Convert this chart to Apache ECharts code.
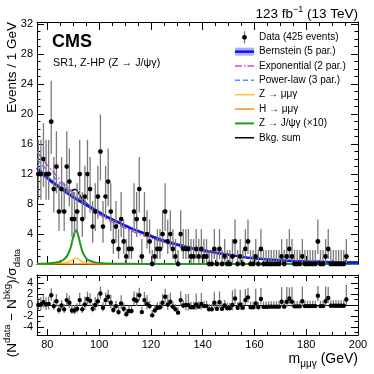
<!DOCTYPE html>
<html><head><meta charset="utf-8">
<script src="https://cdn.jsdelivr.net/npm/echarts@6/dist/echarts.min.js"></script>
<style>html,body{margin:0;padding:0;background:#fff}#c{width:374px;height:374px}</style>
</head><body><div id="c"></div>
<script>
// ---------- DATA ----------
const binLow = 76, binWidth = 1;
// events per 1 GeV bin, bins 76-77 ... 195-196
const events = [12,12,14,12,12,19,10,13,7,10,7,13,11,6,6,7,12,6,9,12,10,5,7,9,15,
  5,9,11,7,3,5,2,6,3,1,2,2,7,6,10,1,6,4,3,0,1,2,
  2,4,7,3,4,2,1,0,4,2,2,2,1,1,2,1,2,1,1,0,0,2,0,2,0,1,0,0,1,3,0,1,0,2,3,0,0,1,0,2,
  0,0,0,0,0,0,0,1,0,1,2,1,0,0,0,1,0,0,0,0,0,3,0,0,1,2,0,0,0,0,0,0,1];
// (N_data - N_bkg)/sigma_data per bin
const pulls = [0.0,0.1,0.5,0.1,0.2,1.8,-0.2,0.7,-0.9,-0.1,-0.8,0.9,0.4,-1.0,-1.0,-0.7,0.9,-0.8,0.1,1.1,0.8,-0.7,0.0,0.7,2.1,
  -0.5,0.9,1.5,0.4,-0.9,-0.2,-1.3,0.3,-0.7,-1.7,-1.1,-1.1,1.0,0.8,1.8,-1.3,0.9,0.2,-0.2,-1.9,-1.0,-0.5,
  -0.4,0.4,1.5,0.1,0.6,-0.3,-0.8,-1.4,0.9,-0.1,0.0,0.0,-0.4,-0.4,0.1,-0.3,0.2,-0.2,-0.2,-0.8,-0.8,0.4,-0.7,0.5,-0.7,-0.1,-0.6,-0.6,0.0,1.2,-0.5,0.1,-0.5,0.9,1.4,-0.4,-0.4,0.3,-0.4,1.1,
  -0.35,-0.35,-0.3,-0.3,-0.3,-0.3,-0.3,0.6,-0.3,0.6,1.2,0.6,-0.25,-0.25,-0.25,0.7,-0.2,-0.2,-0.2,-0.2,-0.2,1.7,-0.2,-0.2,0.7,1.3,-0.15,-0.15,-0.15,-0.15,-0.15,-0.15,1.0];

// background curves
const curveMass   = [76,78,80,82,84,86,88,90,92,94,96,98,100,103,106,109,112,115,118,121,124,127,130,134,138,142,146,150,155,160,165,170,175,180,185,190,195,200];
const bernstein   = [12.8,12.1,11.5,10.9,10.4,9.9,9.4,8.9,8.5,8.1,7.7,7.3,6.9,6.3,5.8,5.3,4.8,4.4,4.0,3.6,3.2,2.9,2.6,2.25,1.95,1.7,1.45,1.25,0.95,0.75,0.6,0.48,0.4,0.33,0.28,0.24,0.21,0.19];
const bernsteinErr= [0.45,0.4,0.35,0.32,0.3,0.28,0.26,0.24,0.22,0.2,0.19,0.18,0.17,0.16,0.15,0.14,0.13,0.12,0.12,0.11,0.11,0.1,0.1,0.09,0.09,0.08,0.08,0.07,0.07,0.06,0.06,0.06,0.05,0.05,0.05,0.06,0.07,0.08];
const exponential = [15.0,14.1,13.2,12.4,11.6,10.85,10.15,9.5,8.85,8.2,7.6,7.05,6.6,6.0,5.45,4.95,4.5,4.05,3.7,3.35,3.0,2.7,2.45,2.1,1.8,1.55,1.35,1.15,0.95,0.78,0.66,0.56,0.47,0.4,0.34,0.29,0.25,0.21];
const powerLaw    = [14.0,13.2,12.5,11.8,11.1,10.5,9.9,9.3,8.8,8.3,7.85,7.4,7.0,6.4,5.85,5.35,4.9,4.45,4.05,3.7,3.35,3.05,2.75,2.4,2.1,1.85,1.6,1.3,1.05,0.85,0.7,0.58,0.48,0.41,0.35,0.3,0.26,0.23];
// background sum (incl. signal bump)
const sumMass = [76,78,80,82,84,85,86,87,88,89,89.5,90,90.5,91,91.5,92,92.5,93,93.5,94,95,96,98,100,103,106,109,112,115,118,121,124,127,130,134,138,142,146,150,155,160,165,170,175,180,185,190,195,200];
const bkgSum  = [12.85,12.15,11.55,10.96,10.5,10.28,10.08,9.91,9.79,9.77,9.81,9.88,9.96,9.95,9.79,9.52,9.22,8.93,8.67,8.46,8.12,7.84,7.38,6.95,6.32,5.81,5.3,4.8,4.4,4.0,3.6,3.22,2.92,2.6,2.25,1.95,1.7,1.45,1.25,0.95,0.75,0.6,0.48,0.4,0.33,0.28,0.24,0.21,0.19];
// signal shapes
const sigMass   = [76,80,83,85,86,87,88,89,89.5,90,90.5,91,91.5,92,92.5,93,93.5,94,95,96,98,100,103,106,110,115,120,123,124,125,126,127,130,140,160,200];
const zJpsiX10  = [0.03,0.07,0.16,0.33,0.5,0.8,1.3,2.2,2.9,3.6,4.2,4.5,4.3,3.7,3.0,2.3,1.7,1.3,0.75,0.48,0.25,0.15,0.08,0.05,0.03,0.015,0.01,0.005,0.005,0.005,0.004,0.004,0.003,0.002,0.001,0];
const zMuMuG    = [0.02,0.04,0.07,0.1,0.13,0.18,0.26,0.4,0.5,0.62,0.74,0.8,0.76,0.65,0.52,0.4,0.3,0.23,0.14,0.09,0.05,0.03,0.02,0.01,0.01,0.005,0,0,0,0,0,0,0,0,0,0];
const hMuMuG    = [0,0,0,0,0,0,0,0,0,0,0,0,0,0,0,0,0,0,0,0,0,0,0,0,0,0,0.005,0.02,0.04,0.06,0.04,0.02,0.005,0,0,0];

// axis ticks
const xMajor = [80,100,120,140,160,180,200];
const yMajorMain = [0,4,8,12,16,20,24,28,32];
const yMajorRatio = [-4,-2,0,2,4];
const yMinorRatio = [-5,-3,-1,1,3,5];

// ---------- HELPERS ----------
const FONT = "'Liberation Sans', Arial, Helvetica, sans-serif";
function range(a, b, s){ const r=[]; for(let v=a; v<=b+1e-9; v+=s) r.push(+v.toFixed(6)); return r; }
const xMinor = range(80,200,5);
const yMinorMain = range(0,32,1);

const massBins = events.map((_, i) => binLow + binWidth * (i + 0.5));
const errUp = n => Math.sqrt(n + 0.75) + 1;       // ~Garwood upper error
const errDn = n => n > 0 ? Math.sqrt(n - 0.25) : 0; // ~Garwood lower error

const dataPts = events.map((n, i) => [massBins[i], n, n - errDn(n), n + errUp(n)]);
const pullPts = pulls.map((p, i) => {
  const n = events[i];
  const sig = (p >= 0 && n > 0) ? errDn(n) : errUp(n);
  return [massBins[i], p, p - errDn(n) / sig, p + errUp(n) / sig];
});

function axis(grid, pos, min, max, ticks, len, o) {
  o = o || {};
  return {
    type: 'value', gridIndex: grid, position: pos, min: min, max: max,
    axisLine: { show: !!o.line, onZero: false, lineStyle: { color: '#000', width: 1 } },
    axisTick: { show: true, inside: true, length: len, customValues: ticks, lineStyle: { color: '#000', width: 1 } },
    axisLabel: o.labels ? { show: true, customValues: o.labels, color: '#000', fontSize: 11, fontFamily: FONT, margin: o.margin || 4, showMaxLabel: true, showMinLabel: true } : { show: false },
    splitLine: { show: false }, minorTick: { show: false }, splitArea: { show: false }
  };
}

function errRender(r) {
  return function (params, api) {
    const x = api.value(0), y = api.value(1), lo = api.value(2), hi = api.value(3);
    const p = api.coord([x, y]), a = api.coord([x, lo]), b = api.coord([x, hi]);
    return { type: 'group', children: [
      { type: 'line', shape: { x1: a[0], y1: a[1], x2: b[0], y2: b[1] }, style: { stroke: '#7a7a7a', lineWidth: 1.3 } },
      { type: 'circle', shape: { cx: p[0], cy: p[1], r: r }, style: { fill: '#000' } }
    ]};
  };
}

function lineSeries(xs, ys, color, width, type, z) {
  return { type: 'line', xAxisIndex: 0, yAxisIndex: 0, data: xs.map((m, i) => [m, ys[i]]),
    showSymbol: false, symbol: 'none', smooth: 0.3, z: z, silent: true, animation: false,
    lineStyle: { color: color, width: width, type: type } };
}

const XMIN = 76, XMAX = 200, YMAX = 32.3;

const option = {
  animation: false,
  backgroundColor: '#fff',
  textStyle: { fontFamily: FONT },
  grid: [
    { left: 37, top: 22, width: 321, height: 242, outerBoundsMode: 'none', containLabel: false },
    { left: 37, top: 275, width: 321, height: 60, outerBoundsMode: 'none', containLabel: false }
  ],
  xAxis: [
    axis(0, 'bottom', XMIN, XMAX, xMajor, 8, { line: true }),
    axis(0, 'bottom', XMIN, XMAX, xMinor, 4),
    axis(0, 'top', XMIN, XMAX, xMajor, 8, { line: true }),
    axis(0, 'top', XMIN, XMAX, xMinor, 4),
    axis(1, 'bottom', XMIN, XMAX, xMajor, 6, { line: true, labels: xMajor, margin: 4 }),
    axis(1, 'bottom', XMIN, XMAX, xMinor, 3),
    axis(1, 'top', XMIN, XMAX, xMajor, 6, { line: true }),
    axis(1, 'top', XMIN, XMAX, xMinor, 3)
  ],
  yAxis: [
    axis(0, 'left', 0, YMAX, yMajorMain, 7, { line: true, labels: yMajorMain, margin: 4 }),
    axis(0, 'left', 0, YMAX, yMinorMain, 3.5),
    axis(0, 'right', 0, YMAX, yMajorMain, 7, { line: true }),
    axis(0, 'right', 0, YMAX, yMinorMain, 3.5),
    axis(1, 'left', -5.5, 5.5, yMajorRatio, 7, { line: true, labels: yMajorRatio, margin: 4 }),
    axis(1, 'left', -5.5, 5.5, yMinorRatio, 3.5),
    axis(1, 'right', -5.5, 5.5, yMajorRatio, 7, { line: true }),
    axis(1, 'right', -5.5, 5.5, yMinorRatio, 3.5)
  ],
  series: [
    { type: 'custom', name: 'band', xAxisIndex: 0, yAxisIndex: 0, data: [[XMIN, 0]], z: 2, silent: true,
      renderItem: function (params, api) {
        const up = curveMass.map((m, i) => api.coord([m, bernstein[i] + bernsteinErr[i]]));
        const dn = curveMass.map((m, i) => api.coord([m, bernstein[i] - bernsteinErr[i]])).reverse();
        return { type: 'polygon', shape: { points: up.concat(dn) }, style: { fill: 'rgba(110,110,255,0.55)' } };
      } },
    lineSeries(sumMass, bkgSum, '#000', 1.5, 'solid', 3),
    lineSeries(sigMass, zMuMuG, '#ffc233', 1.5, 'solid', 4),
    lineSeries(sigMass, hMuMuG, '#ff8c1a', 1.5, 'solid', 4),
    lineSeries(sigMass, zJpsiX10, '#1e9a1e', 2, 'solid', 4),
    lineSeries(curveMass, exponential, '#e040e0', 1.5, [7, 2, 1.5, 2], 4),
    lineSeries(curveMass, powerLaw, '#4a90ff', 1.5, [5, 3], 4),
    lineSeries(curveMass, bernstein, '#1010e6', 2.5, 'solid', 5),
    { type: 'custom', name: 'data', xAxisIndex: 0, yAxisIndex: 0, data: dataPts, z: 10, clip: false,
      renderItem: errRender(2.4), silent: true },
    { type: 'custom', name: 'pull', xAxisIndex: 4, yAxisIndex: 4, data: pullPts, z: 10, clip: false,
      renderItem: errRender(2.2), silent: true,
      markLine: { silent: true, symbol: 'none', label: { show: false }, lineStyle: { color: '#000', width: 1, type: 'solid' }, data: [{ yAxis: 0 }], z: 5 } }
  ],
  graphic: []
};

// ---------- TEXT & LEGEND ----------
const G = option.graphic;
G.push({ type: 'text', x: 358, y: 14, style: { text: '123 fb{sup|−1} (13 TeV)', fill: '#000', font: '13.5px ' + FONT, align: 'right', textAlign: 'right', verticalAlign: 'middle', textVerticalAlign: 'middle',
  rich: { sup: { fontSize: 9, fontFamily: FONT, verticalAlign: 'top', lineHeight: 18, fill: '#000' } } } });
G.push({ type: 'text', x: 52, y: 42, style: { text: 'CMS', fill: '#000', font: 'bold 18px ' + FONT, align: 'left', textAlign: 'left', verticalAlign: 'middle', textVerticalAlign: 'middle' } });
G.push({ type: 'text', x: 53, y: 63, style: { text: 'SR1, Z-HP (Z → J/ψγ)', fill: '#000', font: '10.8px ' + FONT, align: 'left', textAlign: 'left', verticalAlign: 'middle', textVerticalAlign: 'middle' } });
G.push({ type: 'text', x: 12, y: 22, rotation: Math.PI / 2, style: { text: 'Events / 1 GeV', fill: '#000', font: '13.5px ' + FONT, align: 'right', textAlign: 'right', verticalAlign: 'middle', textVerticalAlign: 'middle' } });
G.push({ type: 'text', x: 12, y: 303, rotation: Math.PI / 2, style: { text: '(N{sup|data} − N{sup|bkg})/σ{sub|data}', fill: '#000', font: '13.5px ' + FONT, align: 'center', textAlign: 'center', verticalAlign: 'middle', textVerticalAlign: 'middle',
  rich: { sup: { fontSize: 9.5, fontFamily: FONT, verticalAlign: 'top', lineHeight: 20, fill: '#000' }, sub: { fontSize: 9.5, fontFamily: FONT, verticalAlign: 'bottom', lineHeight: 20, fill: '#000' } } } });
G.push({ type: 'text', x: 358, y: 359, style: { text: 'm{sub|μμγ} (GeV)', fill: '#000', font: '14px ' + FONT, align: 'right', textAlign: 'right', verticalAlign: 'middle', textVerticalAlign: 'middle',
  rich: { sub: { fontSize: 10, fontFamily: FONT, verticalAlign: 'bottom', lineHeight: 20, fill: '#000' } } } });

const legendNames = ['Data (425 events)', 'Bernstein (5 par.)', 'Exponential (2 par.)', 'Power-law (3 par.)', 'Z → μμγ', 'H → μμγ', 'Z → J/ψγ (×10)', 'Bkg. sum'];
const legendY0 = 37.3, legendDy = 14.35, lx0 = 235, lx1 = 254, ltx = 259;
legendNames.forEach((name, i) => {
  const cy = legendY0 + i * legendDy;
  G.push({ type: 'text', x: ltx, y: cy, style: { text: name, fill: '#000', font: '10px ' + FONT, align: 'left', textAlign: 'left', verticalAlign: 'middle', textVerticalAlign: 'middle' } });
});
function lgLine(i, color, width, dash) {
  const cy = legendY0 + i * legendDy;
  G.push({ type: 'line', shape: { x1: lx0, y1: cy, x2: lx1, y2: cy }, style: { stroke: color, lineWidth: width, lineDash: dash || null } });
}
(function () {
  const cy = legendY0;
  G.push({ type: 'line', shape: { x1: 244.5, y1: cy - 6, x2: 244.5, y2: cy + 6 }, style: { stroke: '#7a7a7a', lineWidth: 1.3 } });
  G.push({ type: 'circle', shape: { cx: 244.5, cy: cy, r: 2.4 }, style: { fill: '#000' } });
  const cb = legendY0 + legendDy;
  G.push({ type: 'rect', shape: { x: lx0, y: cb - 4, width: lx1 - lx0, height: 8 }, style: { fill: 'rgba(110,110,255,0.55)' } });
})();
lgLine(1, '#1010e6', 2.5);
lgLine(2, '#e040e0', 1.5, [7, 2, 1.5, 2]);
lgLine(3, '#4a90ff', 1.5, [5, 3]);
lgLine(4, '#ffc233', 1.5);
lgLine(5, '#ff8c1a', 1.5);
lgLine(6, '#1e9a1e', 2);
lgLine(7, '#000', 1.5);

const chart = echarts.init(document.getElementById('c'), null, { renderer: 'canvas' });
chart.setOption(option);
</script></body></html>
